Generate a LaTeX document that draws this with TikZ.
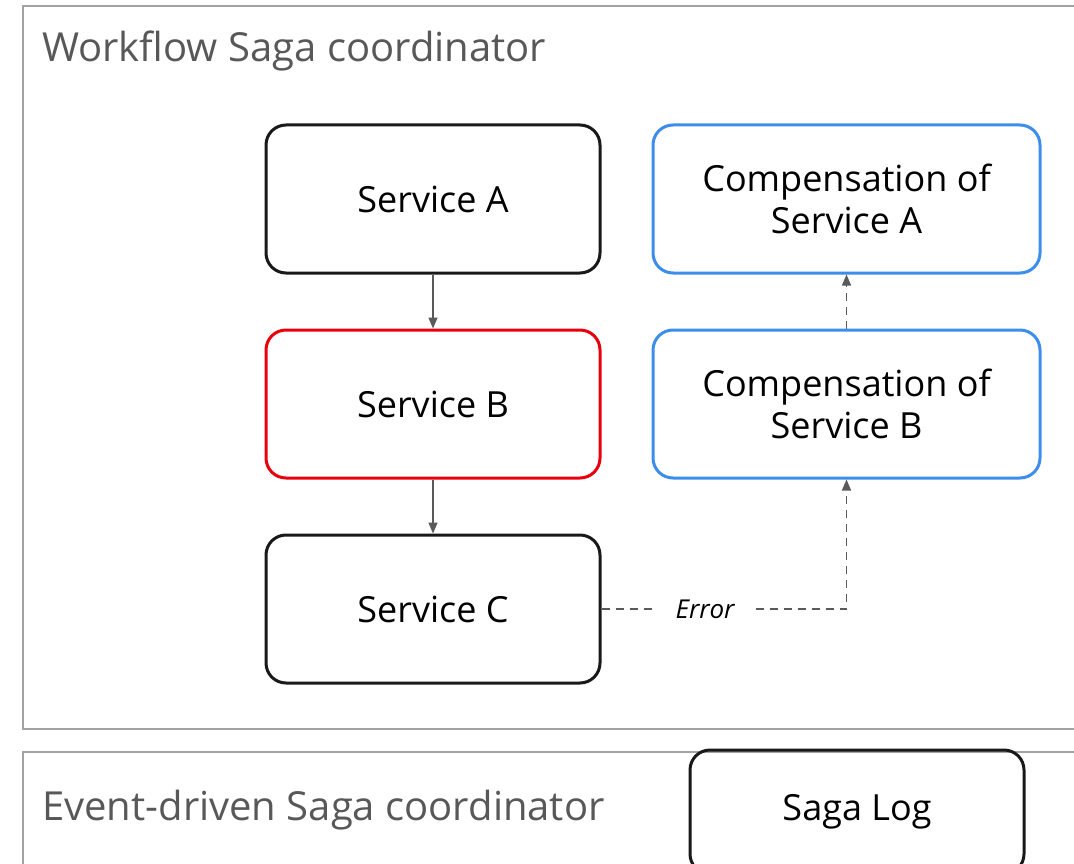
\documentclass[tikz,border=0pt]{standalone}
\usepackage{fontspec}
\setmainfont{Open Sans}
\usetikzlibrary{arrows.meta}
\definecolor{frameg}{HTML}{A3A3A3}
\definecolor{titleg}{HTML}{585858}
\definecolor{arrg}{HTML}{5A5A5A}
\definecolor{blu}{HTML}{3D8EEC}
\definecolor{redb}{HTML}{E8000D}
\begin{document}
\begin{tikzpicture}[x=1pt,y=-1pt,
  frame/.style={draw=frameg,line width=2pt},
  box/.style={draw=black!90,line width=3pt,rounded corners=20pt,minimum width=334pt,minimum height=148pt,align=center,font=\fontsize{36}{42}\selectfont,inner sep=0pt},
  comp/.style={box,draw=blu,minimum width=387pt},
  title/.style={anchor=west,text=titleg,font=\fontsize{40}{46}\selectfont,inner sep=0pt},
  flow/.style={draw=arrg,line width=1.5pt,-{Triangle[length=11pt,width=9pt]}},
  dflow/.style={flow,dash pattern=on 8pt off 6pt}]
\useasboundingbox (0,0) rectangle (1074,864);
\fill[white] (0,0) rectangle (1074,864);
\draw[frame] (1080,6) -- (23,6) -- (23,729) -- (1080,729);
\draw[frame] (1080,752) -- (23,752) -- (23,870);
\node[title] (t1) at (42,51) {Workflow Saga coordinator};
\node[title] (t2) at (42,810) {Event-driven Saga coordinator};
\node[box] (A) at (433,199) {Service A};
\node[box,draw=redb] (B) at (433,404) {Service B};
\node[box] (C) at (433,609) {Service C};
\node[comp] (CA) at (846.5,199) {Compensation of\\Service A};
\node[comp] (CB) at (846.5,404) {Compensation of\\Service B};
\node[box,minimum height=124pt] (L) at (857,812) {Saga Log};
\draw[flow] (A) -- (B);
\draw[flow] (B) -- (C);
\draw[dflow] (CB) -- (CA);
\draw[dflow] (C.east) -- (CB.south |- C.east) -- (CB.south);
\node[fill=white,font=\fontsize{26}{30}\selectfont\itshape,inner xsep=22pt] (E) at (705,609) {Error};
\end{tikzpicture}
\end{document}
